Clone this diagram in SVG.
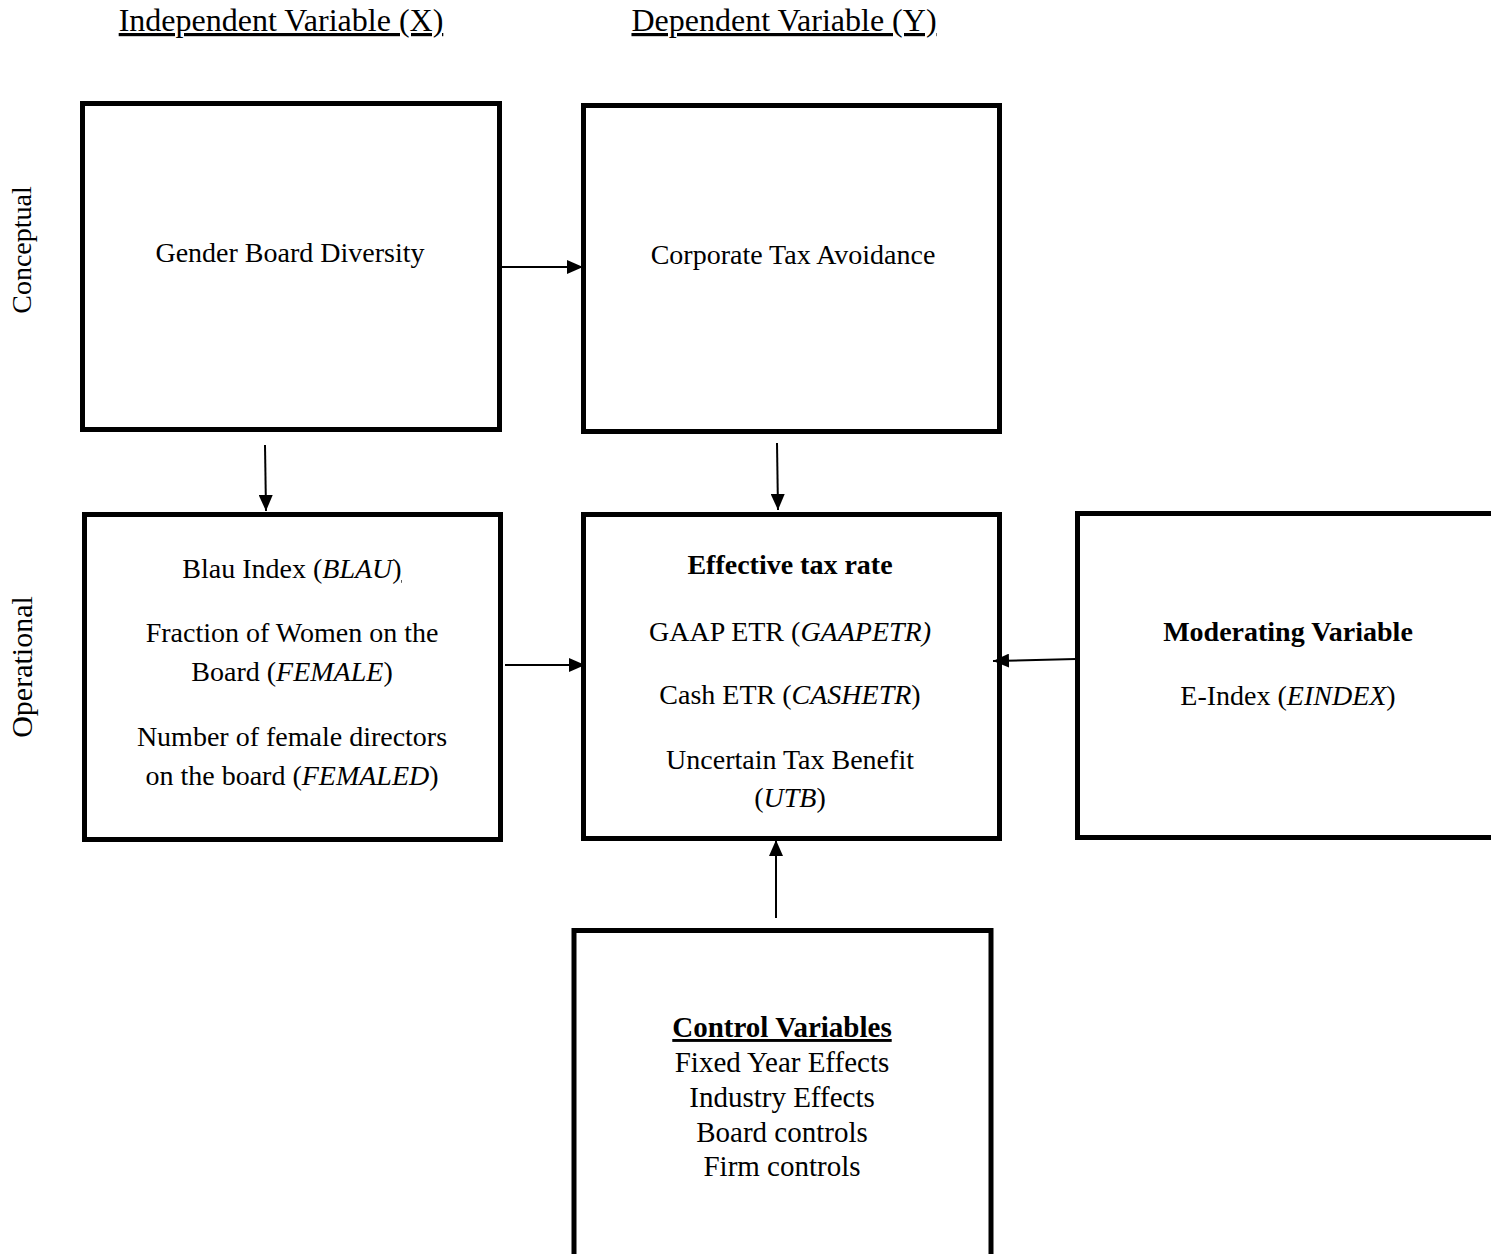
<svg xmlns="http://www.w3.org/2000/svg" width="1491" height="1254" viewBox="0 0 1491 1254">
<style>
text { font-family: "Liberation Serif", "Times New Roman", serif; fill: #000; }
.t { font-size: 28px; text-anchor: middle; }
.c { font-size: 29px; text-anchor: middle; }
.h { font-size: 32px; text-anchor: middle; text-decoration: underline; }
.side { font-size: 28px; text-anchor: middle; }
.b { font-weight: bold; }
.i { font-style: italic; }
.box { fill: #fff; stroke: #000; stroke-width: 5; }
.conn line { stroke: #000; stroke-width: 2; }
</style>
<defs>
<marker id="ah" viewBox="0 0 16 14" refX="16" refY="7" markerWidth="16" markerHeight="14" markerUnits="userSpaceOnUse" orient="auto">
<path d="M0,0 L16,7 L0,14 z" fill="#000"/>
</marker>
</defs>
<rect width="1491" height="1254" fill="#fff"/>
<g id="headers">
<text class="h" x="281" y="31">Independent Variable (X)</text>
<text class="h" x="784" y="31">Dependent Variable (Y)</text>
<text class="side" transform="translate(31,250) rotate(-90)">Conceptual</text>
<text class="side" style="font-size:30px" transform="translate(32,667) rotate(-90)">Operational</text>
</g>
<g id="gender">
<rect class="box" x="82.5" y="103.5" width="417" height="326"/>
<text class="t" x="290" y="262">Gender Board Diversity</text>
</g>
<g id="corporate">
<rect class="box" x="583.5" y="105.5" width="416" height="326"/>
<text class="t" x="793" y="264">Corporate Tax Avoidance</text>
</g>
<g id="measures">
<rect class="box" x="84.5" y="514.5" width="416" height="325"/>
<text class="t" x="292" y="578">Blau Index (<tspan class="i">BLAU</tspan><tspan text-decoration="underline">)</tspan></text>
<text class="t" x="292" y="642">Fraction of Women on the</text>
<text class="t" x="292" y="681">Board (<tspan class="i">FEMALE</tspan>)</text>
<text class="t" x="292" y="746">Number of female directors</text>
<text class="t" x="292" y="785">on the board (<tspan class="i">FEMALED</tspan>)</text>
</g>
<g id="etr">
<rect class="box" x="583.5" y="514.5" width="416" height="324"/>
<text class="t b" x="790" y="574">Effective tax rate</text>
<text class="t" x="790" y="641">GAAP ETR (<tspan class="i">GAAPETR)</tspan></text>
<text class="t" x="790" y="704">Cash ETR (<tspan class="i">CASHETR</tspan>)</text>
<text class="t" x="790" y="769">Uncertain Tax Benefit</text>
<text class="t" x="790" y="807">(<tspan class="i">UTB</tspan>)</text>
</g>
<g id="moderating">
<rect class="box" x="1077.5" y="513.5" width="450" height="324"/>
<text class="t b" x="1288" y="641">Moderating Variable</text>
<text class="t" x="1288" y="705">E-Index (<tspan class="i">EINDEX</tspan>)</text>
</g>
<g id="controls">
<rect class="box" x="574" y="930.5" width="417" height="400"/>
<text class="c b" x="782" y="1037" text-decoration="underline">Control Variables</text>
<text class="c" x="782" y="1072">Fixed Year Effects</text>
<text class="c" x="782" y="1107">Industry Effects</text>
<text class="c" x="782" y="1142">Board controls</text>
<text class="c" x="782" y="1176">Firm controls</text>
</g>
<g id="connectors" class="conn">
<line x1="502" y1="267" x2="583" y2="267" marker-end="url(#ah)"/>
<line x1="265" y1="445" x2="266" y2="511" marker-end="url(#ah)"/>
<line x1="777" y1="443" x2="778" y2="510" marker-end="url(#ah)"/>
<line x1="505" y1="665" x2="585" y2="665" marker-end="url(#ah)"/>
<line x1="1076" y1="659" x2="993" y2="661" marker-end="url(#ah)"/>
<line x1="776" y1="918" x2="776" y2="840" marker-end="url(#ah)"/>
</g>
</svg>
